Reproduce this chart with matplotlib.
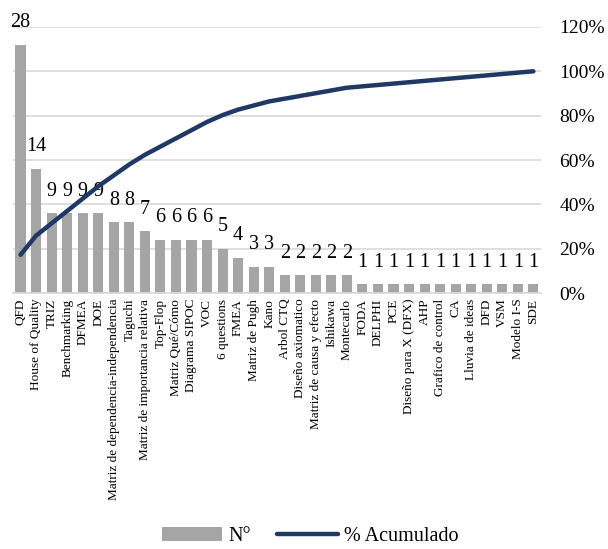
import numpy as np
import matplotlib
matplotlib.use("Agg")
import matplotlib.pyplot as plt
from matplotlib.patches import Patch
from matplotlib.lines import Line2D

plt.rcParams['font.family'] = 'Liberation Serif'

categories = [
    "QFD", "House of Quality", "TRIZ", "Benchmarking", "DFMEA", "DOE",
    "Matriz de dependencia-independencia", "Taguchi",
    "Matriz de importancia relativa", "Top-Flop", "Matriz Qué/Cómo",
    "Diagrama SIPOC", "VOC", "6 questions", "FMEA", "Matriz de Pugh", "Kano",
    "Arbol CTQ", "Diseño axiomatico", "Matriz de causa y efecto", "Ishikawa",
    "Montecarlo", "FODA", "DELPHI", "PCE", "Diseño para X (DFX)", "AHP",
    "Grafico de control", "CA", "Lluvia de ideas", "DFD", "VSM", "Modelo I-S",
    "SDE",
]
counts = [28, 14, 9, 9, 9, 9, 8, 8, 7, 6, 6, 6, 6, 5, 4, 3, 3,
          2, 2, 2, 2, 2, 1, 1, 1, 1, 1, 1, 1, 1, 1, 1, 1, 1]
pct_ticks = [0, 20, 40, 60, 80, 100, 120]

counts_arr = np.array(counts, dtype=float)
cumulative = np.cumsum(counts_arr) / counts_arr.sum() * 100

bar_color = "#A5A5A5"
line_color = "#1F3864"
grid_color = "#D9D9D9"

fig = plt.figure(figsize=(6.08, 5.49), dpi=100)
ax = fig.add_axes([0.021, 0.466, 0.869, 0.485])
ax2 = ax.twinx()

x = np.arange(len(categories))
ax.bar(x, counts_arr, width=0.65, color=bar_color, zorder=2)
for xi, v in zip(x, counts):
    ax.annotate(str(v), xy=(xi, v), xytext=(0, 9), textcoords="offset points",
                ha="center", va="bottom", fontsize=14.5, color="black",
                zorder=4)

ax.set_xlim(-0.5, len(categories) - 0.5)
ax.set_ylim(0, 30)
ax.set_yticks(np.arange(0, 31, 5))
ax.yaxis.grid(True, color=grid_color, linewidth=1.2, zorder=0)
ax.set_axisbelow(True)
ax.tick_params(axis="y", left=False, labelleft=False)
ax.set_xticks(x)
ax.set_xticklabels(categories, rotation=90, fontsize=9.5)
ax.tick_params(axis="x", length=0, pad=4)
for s in ["top", "right", "left"]:
    ax.spines[s].set_visible(False)
ax.spines["bottom"].set_color(grid_color)
ax.spines["bottom"].set_linewidth(1.2)

ax2.plot(x, cumulative, color=line_color, linewidth=3.2,
         solid_capstyle="round", zorder=5)
ax2.set_ylim(0, 120)
ax2.set_yticks(pct_ticks)
ax2.set_yticklabels([f"{t}%" for t in pct_ticks], fontsize=14)
ax2.tick_params(axis="y", length=0, pad=13)
for s in ["top", "right", "left", "bottom"]:
    ax2.spines[s].set_visible(False)

handles = [Patch(facecolor=bar_color, edgecolor="none"),
           Line2D([0], [0], color=line_color, linewidth=3.2,
                  solid_capstyle="round")]
fig.legend(handles, ["N°", "% Acumulado"], loc="lower center",
           bbox_to_anchor=(0.51, -0.028), ncol=2, frameon=False,
           fontsize=14.5, handlelength=3.0, handletextpad=0.3,
           columnspacing=1.3)

fig.savefig("out.png", dpi=100)
